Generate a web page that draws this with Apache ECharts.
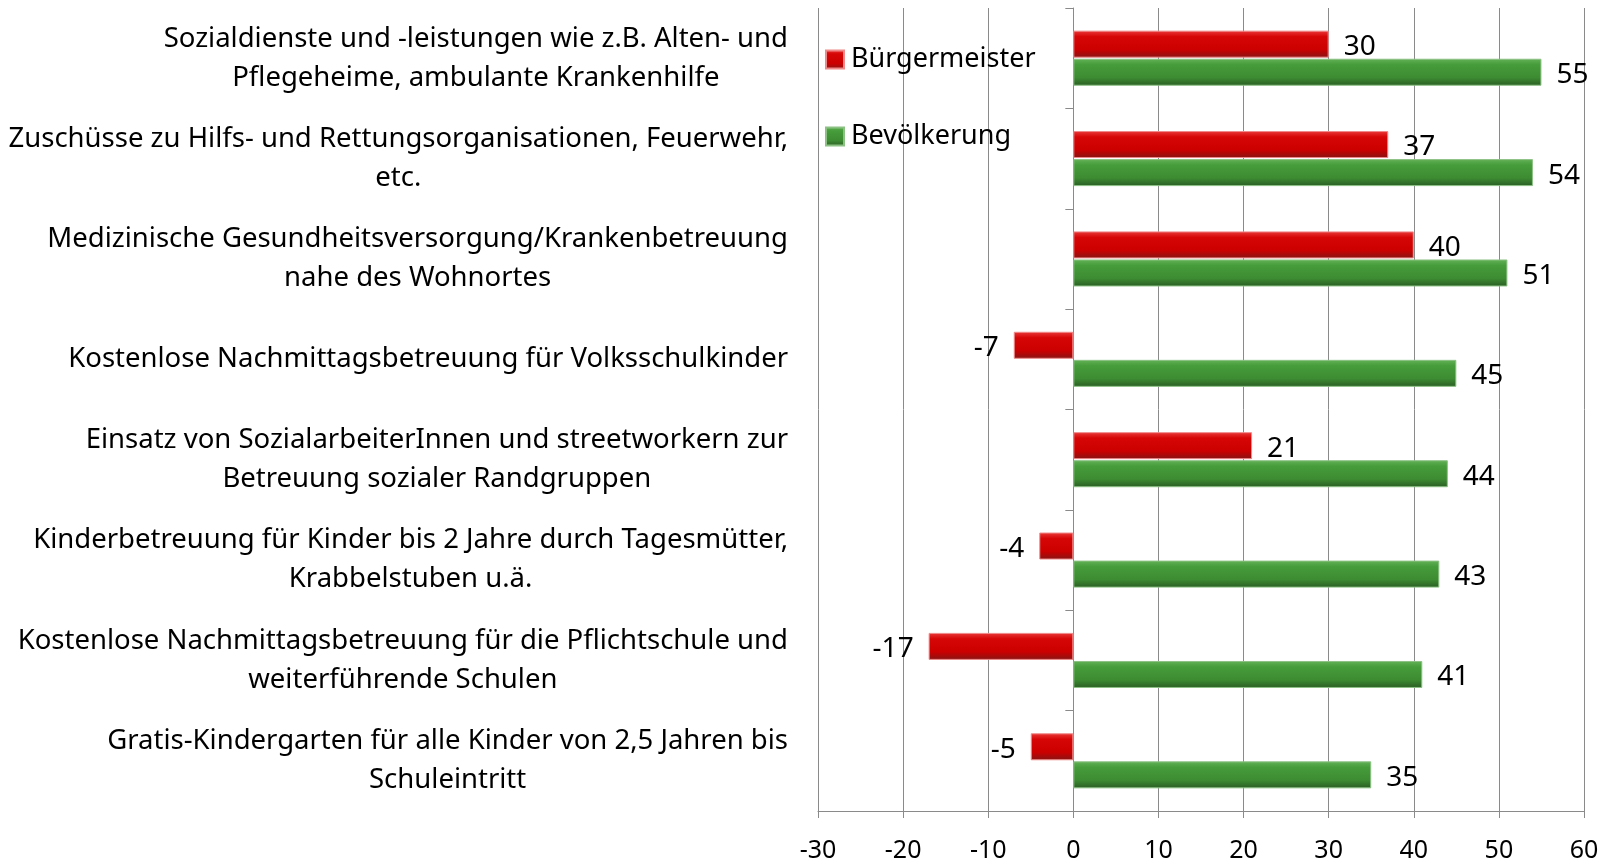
<!DOCTYPE html>
<html>
<head>
<meta charset="utf-8">
<script src="https://cdn.jsdelivr.net/npm/echarts@6/dist/echarts.min.js"></script>
<style>html,body{margin:0;padding:0;background:#fff;}#c{width:1606px;height:865px;}</style>
</head>
<body>
<div id="c"></div>
<script>
const categories = [
  "Sozialdienste und -leistungen wie z.B. Alten- und\nPflegeheime, ambulante Krankenhilfe",
  "Zuschüsse zu Hilfs- und Rettungsorganisationen, Feuerwehr,\netc.",
  "Medizinische Gesundheitsversorgung/Krankenbetreuung\nnahe des Wohnortes",
  "Kostenlose Nachmittagsbetreuung für Volksschulkinder",
  "Einsatz von SozialarbeiterInnen und streetworkern zur\nBetreuung sozialer Randgruppen",
  "Kinderbetreuung für Kinder bis 2 Jahre durch Tagesmütter,\nKrabbelstuben u.ä.",
  "Kostenlose Nachmittagsbetreuung für die Pflichtschule und\nweiterführende Schulen",
  "Gratis-Kindergarten für alle Kinder von 2,5 Jahren bis\nSchuleintritt"
];
const seriesNames = ["Bürgermeister", "Bevölkerung"];
const buergermeister = [30, 37, 40, -7, 21, -4, -17, -5];
const bevoelkerung = [55, 54, 51, 45, 44, 43, 41, 35];
const xTicks = { min: -30, max: 60, interval: 10 };

const FONT = "Noto Sans";
const redFill = {type:'linear',x:0,y:0,x2:0,y2:1,colorStops:[
  {offset:0,color:'#ea3a3a'},{offset:0.22,color:'#d60606'},{offset:0.7,color:'#cc0000'},{offset:1,color:'#861414'}]};
const greenFill = {type:'linear',x:0,y:0,x2:0,y2:1,colorStops:[
  {offset:0,color:'#63b257'},{offset:0.22,color:'#469c3a'},{offset:0.7,color:'#3d8b32'},{offset:1,color:'#2a5d24'}]};

function toData(arr){
  return arr.map(v => ({value: v, label: {position: v < 0 ? 'left' : 'right'}}));
}
const labelCommon = {show:true, distance:15, fontFamily:FONT, fontSize:28, color:'#000', offset:[0,3]};

const chart = echarts.init(document.getElementById('c'), null, {renderer:'canvas'});
chart.setOption({
  animation:false,
  backgroundColor:'#fff',
  textStyle:{fontFamily:FONT},
  legend:{
    orient:'vertical', left:820, top:41,
    itemWidth:18, itemHeight:18, itemGap:50,
    icon:'rect',
    textStyle:{fontFamily:FONT, fontSize:27, color:'#000', padding:[0,0,0,2]},
    data: seriesNames
  },
  grid:{left:818, right:22, top:8, bottom:54},
  xAxis:{
    type:'value', min:xTicks.min, max:xTicks.max, interval:xTicks.interval,
    axisLine:{show:true, onZero:false, lineStyle:{color:'#8a8a8a', width:1}},
    axisTick:{show:true, length:7, lineStyle:{color:'#8a8a8a'}},
    splitLine:{show:true, lineStyle:{color:'#8a8a8a', width:1}},
    axisLabel:{fontFamily:FONT, fontSize:25, color:'#000', margin:27}
  },
  yAxis:[{
    type:'category', data:categories, inverse:true,
    axisLine:{show:false, onZero:false}, axisTick:{show:false},
    axisLabel:{
      interval:0, margin:30, align:'right',
      formatter: v => v.split('\n').map(l => '{c|' + l + '}').join('\n'),
      rich:{c:{align:'center', fontFamily:FONT, fontSize:27.5, lineHeight:39, color:'#000'}}
    }
  },{
    type:'category', data:categories, inverse:true, position:'left',
    axisLine:{show:true, onZero:true, lineStyle:{color:'#8a8a8a', width:1}},
    axisTick:{show:true, length:8, lineStyle:{color:'#8a8a8a'}},
    axisLabel:{show:false}, splitLine:{show:false}
  }],
  series:[{
    name:seriesNames[0], type:'bar', yAxisIndex:0,
    barWidth:27, barGap:'4%',
    data: toData(buergermeister),
    itemStyle:{color:redFill, borderColor:'#f08a8a', borderWidth:1},
    label: labelCommon
  },{
    name:seriesNames[1], type:'bar', yAxisIndex:0,
    barWidth:27, barGap:'4%',
    data: toData(bevoelkerung),
    itemStyle:{color:greenFill, borderColor:'#8cc184', borderWidth:1},
    label: labelCommon
  }]
});
</script>
</body>
</html>
